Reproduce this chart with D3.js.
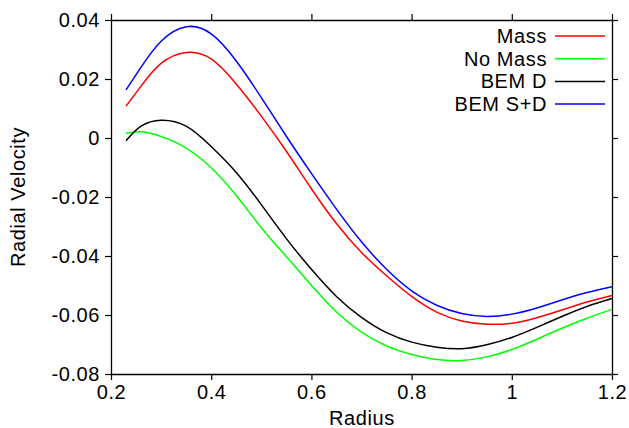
<!DOCTYPE html>
<html>
<head>
<meta charset="utf-8">
<script src="https://cdn.jsdelivr.net/npm/d3@7"></script>
<style>
  body { margin: 0; background: #fff; }
  svg text { font-family: "Liberation Sans", Arial, Helvetica, sans-serif; fill: #000; letter-spacing: 0.6px; }
</style>
</head>
<body>
<svg id="chart" width="629" height="428"></svg>
<script>
// radius samples
const radius = [0.23, 0.26, 0.30, 0.35, 0.40, 0.45, 0.50, 0.55, 0.60, 0.65, 0.70,
                0.75, 0.80, 0.85, 0.90, 0.95, 1.00, 1.05, 1.10, 1.15, 1.20];

const mass = [0.0108, 0.0176, 0.0253, 0.0290, 0.0268, 0.0183, 0.0074, -0.0045, -0.0172, -0.0290, -0.0388,
              -0.0467, -0.0537, -0.0590, -0.0620, -0.0631, -0.0628, -0.0609, -0.0583, -0.0556, -0.0534];
const noMass = [0.0016, 0.0021, 0.0005, -0.0034, -0.0101, -0.0195, -0.0304, -0.0402, -0.0499, -0.0590, -0.0658,
                -0.0705, -0.0734, -0.0751, -0.0754, -0.0742, -0.0717, -0.0682, -0.0645, -0.0611, -0.0581];
const bemD = [-0.0009, 0.0040, 0.0060, 0.0040, -0.0029, -0.0117, -0.0226, -0.0341, -0.0445, -0.0537, -0.0608,
              -0.0660, -0.0692, -0.0709, -0.0714, -0.0701, -0.0676, -0.0642, -0.0605, -0.0571, -0.0544];
const bemSD = [0.0163, 0.0240, 0.0328, 0.0377, 0.0353, 0.0261, 0.0137, 0.0006, -0.0120, -0.0241, -0.0352,
               -0.0445, -0.0518, -0.0567, -0.0595, -0.0605, -0.0597, -0.0576, -0.0549, -0.0524, -0.0504];

const seriesNames = ["Mass", "No Mass", "BEM D", "BEM S+D"];
const seriesColors = ["#ff0000", "#00ff00", "#000000", "#0000ff"];
const seriesValues = [mass, noMass, bemD, bemSD];

const xTicks = [0.2, 0.4, 0.6, 0.8, 1.0, 1.2];
const xTickLabels = ["0.2", "0.4", "0.6", "0.8", "1", "1.2"];
const yTicks = [-0.08, -0.06, -0.04, -0.02, 0, 0.02, 0.04];
const yTickLabels = ["-0.08", "-0.06", "-0.04", "-0.02", "0", "0.02", "0.04"];

const plotLeft = 111, plotRight = 612, plotTop = 20, plotBottom = 374;

const svg = d3.select("#chart");

const x = d3.scaleLinear().domain([0.2, 1.2]).range([plotLeft, plotRight]);
const y = d3.scaleLinear().domain([-0.08, 0.04]).range([plotBottom, plotTop]);

function styleAxis(g) {
  g.selectAll("path, line").attr("stroke", "#000").attr("stroke-width", 1.2);
  g.selectAll("text").style("font-size", "20px");
}

// bottom
svg.append("g")
  .attr("transform", `translate(0,${plotBottom})`)
  .call(d3.axisBottom(x).tickValues(xTicks).tickSize(6).tickSizeOuter(0)
        .tickPadding(5).tickFormat((d, i) => xTickLabels[i]))
  .call(styleAxis);

// top
svg.append("g")
  .attr("transform", `translate(0,${plotTop})`)
  .call(d3.axisTop(x).tickValues(xTicks).tickSize(6).tickSizeOuter(0).tickFormat(""))
  .call(styleAxis);

// left
svg.append("g")
  .attr("transform", `translate(${plotLeft},0)`)
  .call(d3.axisLeft(y).tickValues(yTicks).tickSize(6).tickSizeOuter(0)
        .tickPadding(5).tickFormat((d, i) => yTickLabels[i]))
  .call(styleAxis);

// right
svg.append("g")
  .attr("transform", `translate(${plotRight},0)`)
  .call(d3.axisRight(y).tickValues(yTicks).tickSize(6).tickSizeOuter(0).tickFormat(""))
  .call(styleAxis);

svg.selectAll(".domain").attr("stroke-width", 1.3);

// curves
const line = d3.line()
  .x(d => x(d[0]))
  .y(d => y(d[1]))
  .curve(d3.curveNatural);

seriesValues.forEach((vals, k) => {
  svg.append("path")
    .datum(radius.map((r, i) => [r, vals[i]]))
    .attr("fill", "none")
    .attr("stroke", seriesColors[k])
    .attr("stroke-width", 1.5)
    .attr("d", line);
});

// legend
const legend = svg.append("g");
seriesNames.forEach((name, i) => {
  const ly = 36 + i * 22.7;
  legend.append("text")
    .attr("x", 547).attr("y", ly).attr("dy", "0.35em")
    .attr("text-anchor", "end")
    .style("font-size", "20px")
    .text(name);
  legend.append("line")
    .attr("x1", 555).attr("x2", 605)
    .attr("y1", ly).attr("y2", ly)
    .attr("stroke", seriesColors[i])
    .attr("stroke-width", 1.5);
});

// axis titles
svg.append("text")
  .attr("x", 362).attr("y", 425)
  .attr("text-anchor", "middle")
  .style("font-size", "20px")
  .text("Radius");

svg.append("text")
  .attr("transform", "translate(25,197) rotate(-90)")
  .attr("text-anchor", "middle")
  .style("font-size", "20px")
  .text("Radial Velocity");
</script>
</body>
</html>
